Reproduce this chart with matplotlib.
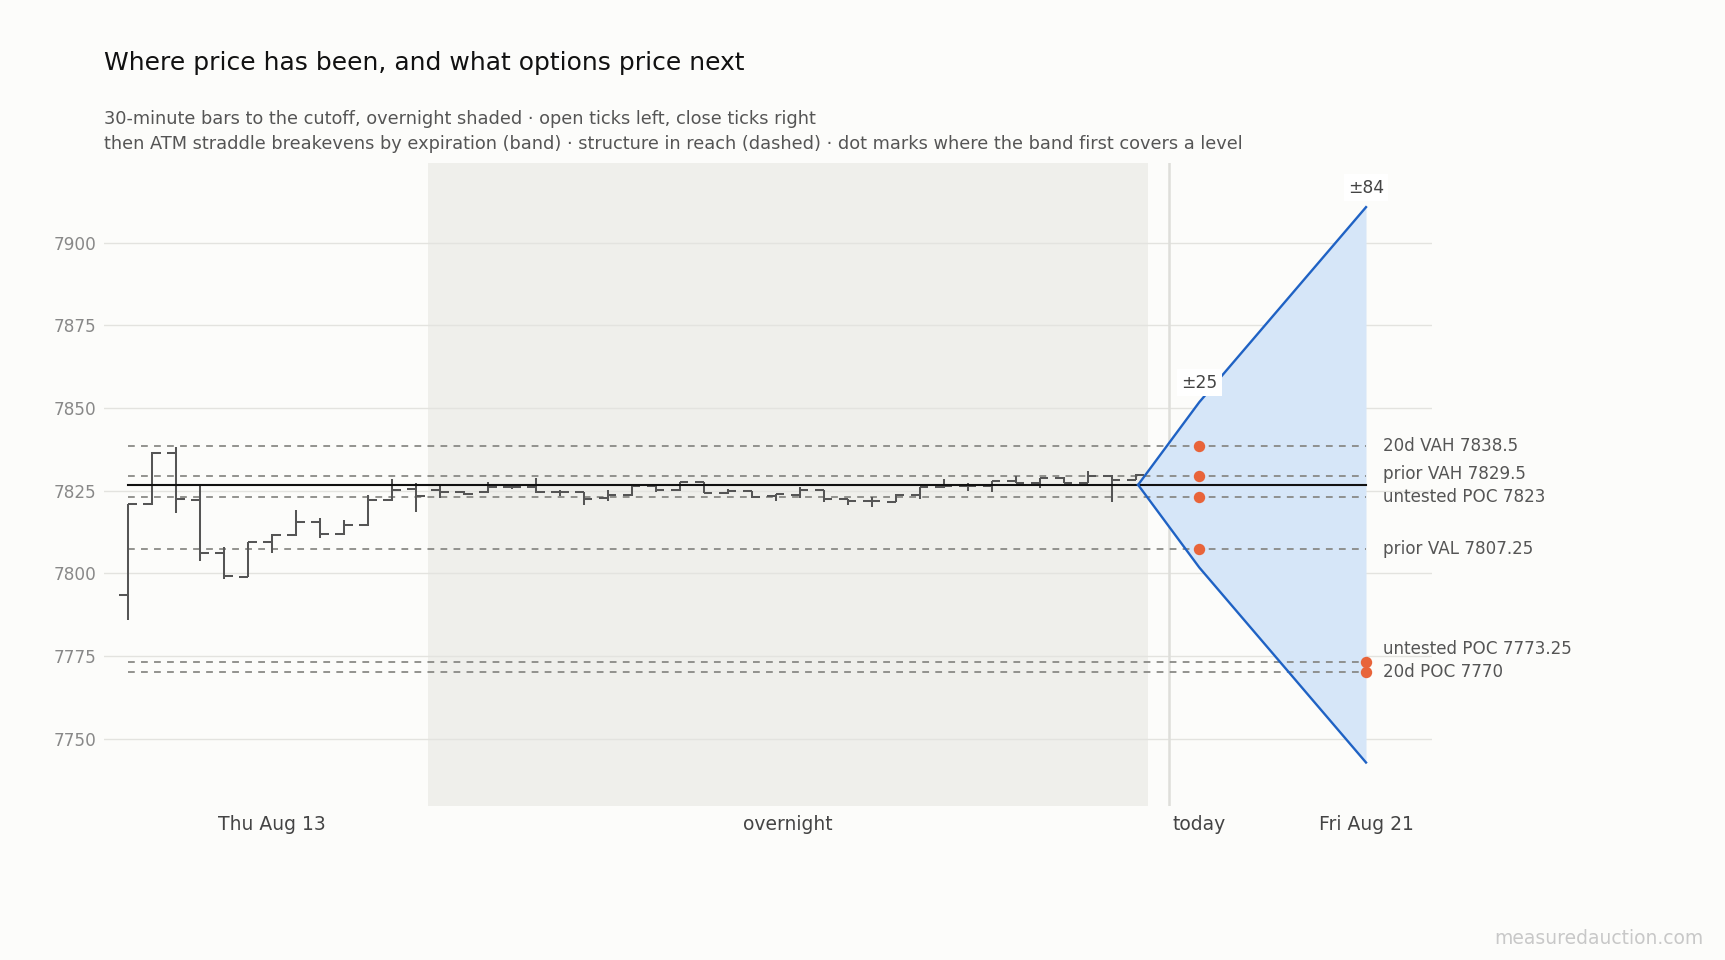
import matplotlib
matplotlib.use("Agg")
import matplotlib.pyplot as plt
import numpy as np

# ---------------- data ----------------
bar_open = [7793.5, 7821, 7836.5, 7822.25, 7806, 7799, 7809.5, 7811.5, 7815.5, 7811.75,
            7814.5, 7822.25, 7825.5, 7825.25, 7824.5, 7824.5, 7826, 7826, 7824.5, 7824.5,
            7822.75, 7823.75, 7826.5, 7825.25, 7827.75, 7824.25, 7825, 7823.5, 7823.75, 7825.25,
            7822.5, 7822, 7821.5, 7823.75, 7826, 7826.5, 7826.5, 7828, 7827.25, 7828.75,
            7827.25, 7829.5, 7828.25]
bar_high = [7821, 7836.75, 7838.25, 7826.5, 7808, 7809.5, 7812, 7819.25, 7816.75, 7816,
            7823.75, 7828.5, 7827.25, 7826.25, 7824.75, 7827.5, 7826.25, 7828.75, 7825.25, 7824.5,
            7825.25, 7826.25, 7826.75, 7827.75, 7827.75, 7825.5, 7825, 7824, 7826, 7825.25,
            7822.5, 7823, 7824, 7826, 7828.5, 7827.25, 7828, 7829.5, 7828.75, 7829.25,
            7831, 7829.75, 7830]
bar_low = [7785.75, 7820.5, 7818.25, 7803.75, 7798.25, 7798.75, 7806, 7811.25, 7810.75, 7811.5,
           7814.25, 7822, 7818.5, 7822.75, 7823.75, 7824.25, 7825.5, 7824.25, 7823.25, 7820.5,
           7822, 7823.5, 7824.5, 7824.75, 7824.25, 7824, 7822.75, 7821.75, 7822.75, 7821.5,
           7820.75, 7820, 7821.5, 7822.5, 7825.75, 7825, 7824.5, 7827.25, 7825.75, 7827.25,
           7827.25, 7821.5, 7828.25]
bar_close = [7821, 7836.5, 7822.5, 7806, 7799.25, 7809.5, 7811.5, 7815.5, 7811.75, 7814.5,
             7822.25, 7825.25, 7823.5, 7824.5, 7824, 7826, 7826, 7824.5, 7824.5, 7822.5,
             7823.75, 7826.25, 7825.25, 7827.5, 7824.25, 7824.75, 7823, 7824, 7825.25, 7822.5,
             7822, 7821.75, 7823.75, 7826, 7826.5, 7826.5, 7828, 7827.25, 7828.75, 7827.25,
             7829.5, 7828.25, 7829.75]

session_labels = ["Thu Aug 13", "overnight"]
session_bar_counts = [13, 30]

center_price = 7826.75
exp_labels = ["today", "Fri Aug 21"]
exp_moves = [25, 84]

level_names = ["20d VAH", "prior VAH", "untested POC", "prior VAL", "untested POC", "20d POC"]
level_values = [7838.5, 7829.5, 7823, 7807.25, 7773.25, 7770]

y_ticks = [7750, 7775, 7800, 7825, 7850, 7875, 7900]

# ---------------- layout / style ----------------
BG = "#fcfcfa"
SHADE = "#efefeb"
GRID = "#e3e3df"
BAR_C = "#555555"
LEVEL_C = "#868682"
BAND_LINE = "#1f62c4"
BAND_FILL = "#d6e6f8"
DOT_C = "#e8643a"

exp_x = [44.65, 51.6]          # x positions of expirations
cutoff_offset = 0.1
tick_len = 0.36
label_gap = 7.0

plt.rcParams["font.family"] = ["DejaVu Sans"]

W, H = 1725, 960
fig = plt.figure(figsize=(W / 100, H / 100), dpi=100, facecolor=BG)
ax = fig.add_axes([104 / W, 1 - 806 / H, (1432 - 104) / W, (806 - 163) / H])
ax.set_facecolor(BG)

n = len(bar_open)
xs = np.arange(n)

# sessions
starts = np.cumsum([0] + session_bar_counts[:-1])
on_start = starts[1] - 0.5
on_end = starts[1] + session_bar_counts[1] - 0.5
ax.axvspan(on_start, on_end, color=SHADE, lw=0, zorder=0)

ax.set_xlim(-1, 54.35)
ax.set_ylim(7729.6, 7924.1)

ax.set_yticks(y_ticks)
ax.grid(axis="y", color=GRID, lw=1.0, zorder=0.5)
ax.set_axisbelow(True)
for s in ax.spines.values():
    s.set_visible(False)

# OHLC bars
ax.vlines(xs, bar_low, bar_high, color=BAR_C, lw=1.45, zorder=3, capstyle="butt")
ax.hlines(bar_open, xs - tick_len, xs, color=BAR_C, lw=1.45, zorder=3, capstyle="butt")
ax.hlines(bar_close, xs, xs + tick_len, color=BAR_C, lw=1.45, zorder=3, capstyle="butt")

cutoff_x = xs[-1] + cutoff_offset
fri_x = exp_x[-1]

# divider between history and expirations
ax.axvline((cutoff_x + exp_x[0]) / 2, color="#dededa", lw=1.8, zorder=1)

# level lines
for v in level_values:
    ax.plot([0, fri_x], [v, v], color=LEVEL_C, lw=1.25, ls=(0, (3.9, 3.6)), zorder=2)

# center price line
ax.plot([0, fri_x], [center_price, center_price], color="#111111", lw=1.5, zorder=4)

# band
bx = [cutoff_x] + exp_x
upper = [center_price] + [center_price + m for m in exp_moves]
lower = [center_price] + [center_price - m for m in exp_moves]
ax.fill_between(bx, lower, upper, color=BAND_FILL, lw=0, zorder=1.5)
ax.plot(bx, upper, color=BAND_LINE, lw=1.7, zorder=5)
ax.plot(bx, lower, color=BAND_LINE, lw=1.7, zorder=5)

for x, u, m in zip(exp_x, upper[1:], exp_moves):
    ax.annotate(f"\u00b1{m}", (x, u), xytext=(0, 14), textcoords="offset points",
                ha="center", va="center", fontsize=12.3, color="#444444", zorder=7,
                bbox=dict(boxstyle="square,pad=0.25", fc="white", ec="none"))

# dots where band first covers a level
for v in level_values:
    for x, lo, hi in zip(exp_x, lower[1:], upper[1:]):
        if lo <= v <= hi:
            ax.plot([x], [v], "o", color=DOT_C, ms=8.2, mec="none", zorder=6)
            break

# labels with declutter (bottom-up)
order = np.argsort(level_values)
label_y = {}
prev = -np.inf
for idx in order:
    y = max(level_values[idx], prev + label_gap)
    label_y[idx] = y
    prev = y
for i, (name, v) in enumerate(zip(level_names, level_values)):
    ax.annotate(f"{name} {v:g}", (fri_x, label_y[i]), xytext=(12, 0),
                textcoords="offset points", ha="left", va="center",
                fontsize=12.1, color="#555555", annotation_clip=False)

# x ticks
sess_centers = [s + (c - 1) / 2 for s, c in zip(starts, session_bar_counts)]
ax.set_xticks(list(sess_centers) + exp_x)
ax.set_xticklabels(session_labels + exp_labels)
ax.tick_params(axis="x", length=0, pad=6.5, labelsize=13.5, labelcolor="#444444")
ax.tick_params(axis="y", length=0, pad=5.5, labelsize=12.2, labelcolor="#888888")

# titles
fig.text(104 / W, 1 - 70 / H, "Where price has been, and what options price next",
         fontsize=18, color="#111111", ha="left", va="baseline")
fig.text(104 / W, 1 - 124.3 / H,
         "30-minute bars to the cutoff, overnight shaded \u00b7 open ticks left, close ticks right",
         fontsize=12.8, color="#555555", ha="left", va="baseline")
fig.text(104 / W, 1 - 149.3 / H,
         "then ATM straddle breakevens by expiration (band) \u00b7 structure in reach (dashed) \u00b7 dot marks where the band first covers a level",
         fontsize=12.8, color="#555555", ha="left", va="baseline")

fig.text(1703 / W, 1 - 938 / H, "measuredauction.com", fontsize=13.5, color="#c8c8c8",
         ha="right", va="center")

fig.savefig("out.png", dpi=100, facecolor=BG)
